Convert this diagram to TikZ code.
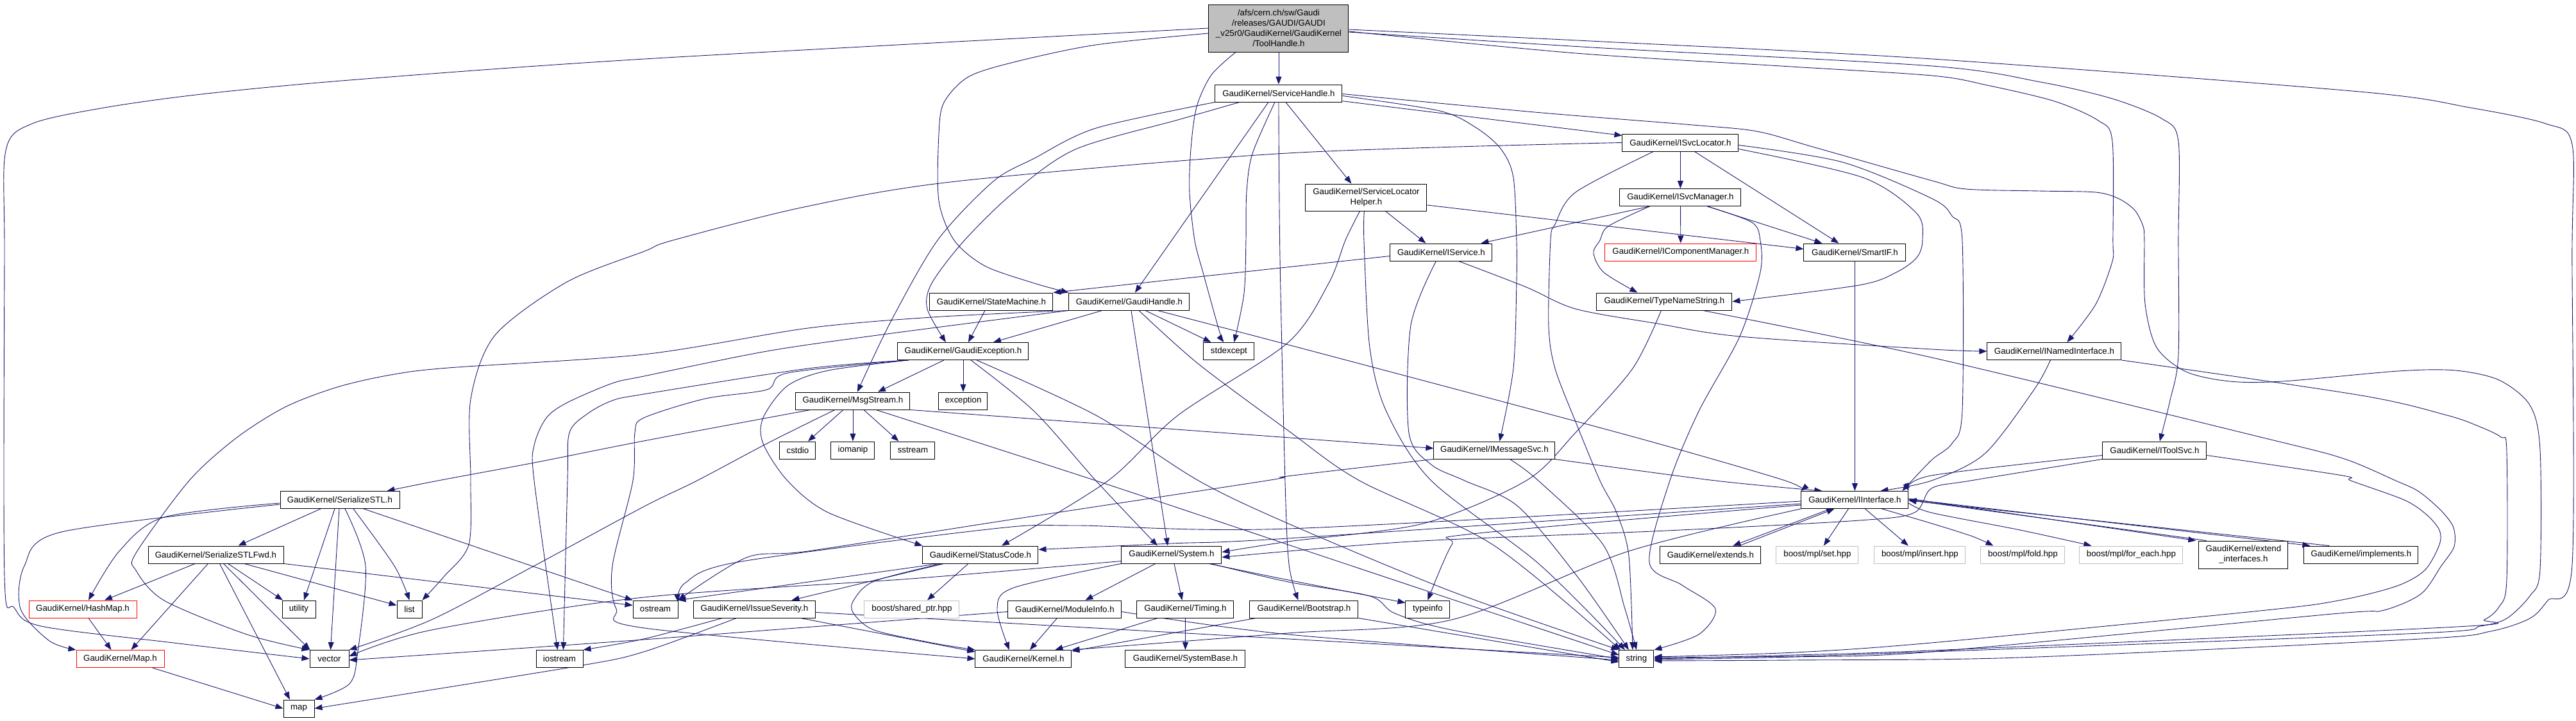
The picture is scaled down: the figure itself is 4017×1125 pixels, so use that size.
\documentclass[tikz,border=0pt]{standalone}
\usepackage{fontspec}
\setmainfont{Liberation Sans}
\usetikzlibrary{arrows.meta}
\definecolor{edgec}{HTML}{191970}
\definecolor{rootfill}{HTML}{BFBFBF}
\definecolor{graybd}{HTML}{BFBFBF}
\pgfdeclarelayer{edgelayer}
\pgfsetlayers{edgelayer,main}
\newcommand\edg[1]{\draw[edge] plot[smooth,tension=0.5] coordinates {#1};}
\begin{document}
\begin{tikzpicture}[x=1pt,y=-1pt,
  box/.style={draw=black, line width=0.95pt, fill=white, inner sep=0pt, minimum height=27pt, align=center, font=\fontsize{13.3}{16}\selectfont},
  redbox/.style={box, draw=red},
  graybox/.style={box, draw=graybd},
  rootbox/.style={box, fill=rootfill},
  edge/.style={draw=edgec, line width=0.9pt, -{Triangle[length=12pt,width=9pt]}}]
\begin{pgfonlayer}{edgelayer}
\useasboundingbox[fill=white] (0,0) rectangle (4017,1125);
\end{pgfonlayer}
% nodes
\node[rootbox, minimum width=218pt, minimum height=74pt] (TH) at (1994,44) {/afs/cern.ch/sw/Gaudi\\/releases/GAUDI/GAUDI\\\_v25r0/GaudiKernel/GaudiKernel\\/ToolHandle.h};
\node[box, minimum width=198pt] (SH) at (1994,145.5) {GaudiKernel/ServiceHandle.h};
\node[box, minimum width=181pt] (SL) at (2620.5,222.5) {GaudiKernel/ISvcLocator.h};
\node[box, minimum width=189pt, minimum height=42pt] (SLH) at (2130.5,308) {GaudiKernel/ServiceLocator\\Helper.h};
\node[box, minimum width=189pt] (SM) at (2620.5,308) {GaudiKernel/ISvcManager.h};
\node[box, minimum width=159pt] (IS) at (2247.5,393.5) {GaudiKernel/IService.h};
\node[redbox, minimum width=236pt] (ICM) at (2621,393.5) {GaudiKernel/IComponentManager.h};
\node[box, minimum width=159pt] (SIF) at (2892.5,393.5) {GaudiKernel/SmartIF.h};
\node[box, minimum width=192pt] (STM) at (1546,470.5) {GaudiKernel/StateMachine.h};
\node[box, minimum width=188pt] (GH) at (1761,470.5) {GaudiKernel/GaudiHandle.h};
\node[box, minimum width=211pt] (TNS) at (2595.5,470.5) {GaudiKernel/TypeNameString.h};
\node[box, minimum width=204pt] (GE) at (1502,548) {GaudiKernel/GaudiException.h};
\node[box, minimum width=79pt] (SE) at (1916.5,548) {stdexcept};
\node[box, minimum width=209pt] (INI) at (3203.5,548) {GaudiKernel/INamedInterface.h};
\node[box, minimum width=178pt] (MS) at (1330,625.5) {GaudiKernel/MsgStream.h};
\node[box, minimum width=76pt] (EXC) at (1502,625.5) {exception};
\node[box, minimum width=56pt] (CST) at (1244,702.5) {cstdio};
\node[box, minimum width=68pt] (IOM) at (1330,702.5) {iomanip};
\node[box, minimum width=69pt] (SST) at (1423.5,702.5) {sstream};
\node[box, minimum width=189pt] (IMS) at (2330.5,702.5) {GaudiKernel/IMessageSvc.h};
\node[box, minimum width=162pt] (ITS) at (3360,702.5) {GaudiKernel/IToolSvc.h};
\node[box, minimum width=186pt] (SSTL) at (530,780) {GaudiKernel/SerializeSTL.h};
\node[box, minimum width=167pt] (II) at (2892.5,780) {GaudiKernel/IInterface.h};
\node[box, minimum width=211pt] (SSTLF) at (336.5,865.5) {GaudiKernel/SerializeSTLFwd.h};
\node[box, minimum width=180pt] (SC) at (1529,865.5) {GaudiKernel/StatusCode.h};
\node[box, minimum width=156pt] (SYS) at (1827,865.5) {GaudiKernel/System.h};
\node[box, minimum width=157pt] (EXT) at (2667.5,865.5) {GaudiKernel/extends.h};
\node[graybox, minimum width=128pt] (MSET) at (2834,865.5) {boost/mpl/set.hpp};
\node[graybox, minimum width=142pt] (MINS) at (2994,865.5) {boost/mpl/insert.hpp};
\node[graybox, minimum width=131pt] (MFOLD) at (3154.5,865.5) {boost/mpl/fold.hpp};
\node[graybox, minimum width=161pt] (MFE) at (3323.5,865.5) {boost/mpl/for\_each.hpp};
\node[box, minimum width=139pt, minimum height=43pt] (EXTI) at (3498.5,865.5) {GaudiKernel/extend\\\_interfaces.h};
\node[box, minimum width=178pt] (IMPL) at (3682,865.5) {GaudiKernel/implements.h};
\node[redbox, minimum width=168pt] (HM) at (129,950.5) {GaudiKernel/HashMap.h};
\node[box, minimum width=52pt] (UTIL) at (466,950.5) {utility};
\node[box, minimum width=39pt] (LIST) at (638.5,950.5) {list};
\node[box, minimum width=70pt] (OST) at (1022,950.5) {ostream};
\node[box, minimum width=191pt] (ISEV) at (1176.5,950.5) {GaudiKernel/IssueSeverity.h};
\node[graybox, minimum width=148pt] (SHP) at (1422,950.5) {boost/shared\_ptr.hpp};
\node[box, minimum width=177pt] (MI) at (1660.5,950.5) {GaudiKernel/ModuleInfo.h};
\node[box, minimum width=151pt] (TIM) at (1848.5,950.5) {GaudiKernel/Timing.h};
\node[box, minimum width=169pt] (BOOT) at (2033.5,950.5) {GaudiKernel/Bootstrap.h};
\node[box, minimum width=69pt] (TI) at (2226.5,950.5) {typeinfo};
\node[redbox, minimum width=137pt] (MAPH) at (187.5,1028) {GaudiKernel/Map.h};
\node[box, minimum width=61pt] (VEC) at (513.5,1028) {vector};
\node[box, minimum width=73pt] (IOS) at (872.5,1028) {iostream};
\node[box, minimum width=150pt] (KER) at (1596,1028) {GaudiKernel/Kernel.h};
\node[box, minimum width=187pt] (SYSB) at (1848.5,1028) {GaudiKernel/SystemBase.h};
\node[box, minimum width=54pt] (STR) at (2552,1028) {string};
\node[box, minimum width=48pt] (MAP) at (466,1105.5) {map};
\begin{pgfonlayer}{edgelayer}
% ToolHandle
\draw[edge] (TH) -- (SH);
\edg{(TH.west) (1005,92) (545,125) (314,147) (163,168) (50,193) (9,235) (7,400) (7,900) (22,948) (64,977) (270,1003) (VEC.west)}
\edg{([yshift=-8pt]TH.west) (1709,70) (1581,97) (1510,120) (1472,160) (1464,210) (1464,313) (1488,375) (1536,415) (1613,442) (GH.north west)}
\edg{([xshift=-67pt]TH.south) (1889,117) (1866,167) (1857,233) (1855,300) (1863,375) (1876,425) (1901,515) ([xshift=-8pt]SE.north)}
\edg{([yshift=-5pt]TH.east) (2457,83) (2777,103) (3013,118) (3099,133) (3204,158) (3272,188) (3294,220) (3295,375) (3294,408) (3268,475) ([xshift=20pt]INI.north)}
\edg{([yshift=-6pt]TH.east) (2500,75) (3013,103) (3182,128) (3294,154) (3371,185) (3397,220) (3397,375) (3397,555) (3384,625) ([xshift=8pt]ITS.north)}
\edg{([yshift=-2pt]TH.east) (2500,65) (3013,92) (3679,143) (3852,168) (3970,193) (4011,225) (4011,400) (4011,883) (3973,937) (3945,965) (3884,985) (3775,997) (3150,1026) (2800,1030) ([yshift=-3pt]STR.east)}
% ServiceHandle
\draw[edge] (SH) -- (SL);
\draw[edge] ([xshift=11pt]SH.south) -- ([xshift=-23pt]SLH.north);
\edg{([yshift=-4pt]SH.east) (2245,173) (2303,200) (2341,233) (2360,277) (2365,375) (2365,442) (2360,575) ([xshift=8pt]IMS.north)}
\edg{([yshift=-1pt]SH.east) (2393,175) (2640,195) (2740,205) (2830,230) (3013,282) (3066,295) (3179,298) (3268,300) (3304,310) (3329,328) (3342,353) (3344,375) (3345,473) (3363,542) (3409,580) (3477,595) (3560,595) (3740,579) (3829,578) (3897,593) (3945,632) (3961,700) (3961,890) (3945,930) (3909,965) (3868,977) (3775,988) (3012,1017) (2800,1024) ([yshift=2pt]STR.east)}
\draw[edge] ([xshift=-16pt]SH.south) -- ([xshift=9pt]GH.north);
\edg{([xshift=-61pt]SH.south) (1837,187) (1677,233) (1581,300) (1504,375) (1453,442) (1446,482) ([xshift=-27pt]GE.north)}
\edg{(SH.south west) (1709,200) (1613,247) (1549,283) (1462,375) (1389,502) ([xshift=7pt]MS.north)}
\edg{([xshift=-6pt]SH.south) (1953,240) (1944,300) (1943,375) (1940,458) ([xshift=8pt]SE.north)}
\edg{(SH.south) (1996,400) (2004,750) (2010,880) ([xshift=-9pt]BOOT.north)}
% ISvcLocator
\draw[edge] (SL) -- (SM);
\edg{(SL.west) (2008,239) (1491,283) (1254,323) (1049,375) (1005,392) (884,440) (772,523) (734,623) (734,750) (731,850) (692,900) (LIST.north east)}
\draw[edge] ([xshift=22pt]SL.south) -- ([xshift=-25pt]SIF.north);
\edg{([yshift=-10pt]SL.east) (2905,277) (2989,333) (2998,375) (2989,402) (2957,425) (2899,445) (TNS.east)}
\edg{([yshift=-4pt]SL.east) (2873,253) (3013,310) (3044,337) (3060,375) (3060,642) (3044,692) (3012,718) ([xshift=-10pt]II.north east)}
\edg{([xshift=-42pt]SL.south) (2457,300) (2425,350) (2418,375) (2415,508) (2425,575) (2457,658) (2495,750) (2521,800) (2540,867) ([xshift=-6pt]STR.north)}
% ServiceLocatorHelper
\edg{([xshift=-10pt]SLH.south) (2098,375) (2072,442) (2008,535) (1837,648) (1728,750) ([xshift=33pt]SC.north)}
\edg{([xshift=-3pt]SLH.south) (2127,375) (2136,542) (2162,642) (2232,750) (2400,880) ([xshift=-18pt]STR.north)}
\draw[edge] ([xshift=30pt]SLH.south) -- ([xshift=-24pt]IS.north);
\draw[edge] ([yshift=-12pt]SLH.east) -- ([yshift=5pt]SIF.west);
% ISvcManager
\draw[edge] ([xshift=-48pt]SM.south) -- ([xshift=62pt]IS.north);
\draw[edge] (SM) -- (ICM);
\edg{([xshift=-48pt]SM.south) (2508,353) (2495,375) (2485,395) (2501,425) ([xshift=-42pt]TNS.north)}
\edg{([xshift=42pt]SM.south) (2732,347) (2745,375) (2745,425) (2713,525) (2649,642) (2604,750) (2572,877) (2623,913) (2675,950) (2649,990) (STR.north east)}
\draw[edge] ([xshift=42pt]SM.south) -- ([xshift=-51pt]SIF.north);
% IService
\draw[edge] ([yshift=-6pt]IS.west) -- (STM.north east);
\edg{([xshift=-8pt]IS.south) (2200,508) (2197,675) (2232,725) (2284,750) (2367,790) (2460,900) ([xshift=-12pt]STR.north)}
\edg{([xshift=27pt]IS.south) (2380,448) (2457,482) (2585,505) (2713,525) (3013,545) (INI.west)}
% GaudiHandle
\draw[edge] ([xshift=-42pt]GH.south) -- ([xshift=47pt]GE.north);
\draw[edge] ([xshift=25pt]GH.south) -- ([xshift=-28pt]SE.north);
\draw[edge] ([xshift=3pt]GH.south) -- ([xshift=-6pt]SYS.north);
\edg{([xshift=15pt]GH.south) (1869,568) (2009,672) (2120,750) (2328,850) ([xshift=-25pt]STR.north)}
\edg{([xshift=44pt]GH.south) (2009,538) (2348,628) (2585,692) (2784,750) (II.north west)}
\edg{(GH.south west) (1453,495) (1260,512) (1004,553) (699,574) (609,585) (526,604) (445,635) (369,683) (295,750) (212,863) (212,890) (256,937) (385,990) (VEC.north west)}
\edg{(GH.south west) (1376,522) (1196,548) (1004,587) (955,598) (885,628) (852,652) (833,695) (833,750) ([xshift=-3pt]IOS.north)}
% GaudiException
\draw[edge] ([xshift=-30pt]GE.south) -- ([xshift=39pt]MS.north);
\draw[edge] (GE) -- (EXC);
\edg{([xshift=12pt]GE.south) (1613,642) (1709,750) ([xshift=-22pt]SYS.north)}
\edg{([xshift=21pt]GE.south) (1709,648) (1869,750) (2009,817) (2264,923) (STR.north west)}
\edg{([xshift=-85pt]GE.south) (1292,578) (1228,602) (1190,652) (1190,692) (1228,750) (1292,800) (SC.north west)}
\edg{([xshift=-85pt]GE.south) (1260,575) (1004,615) (955,625) (917,645) (888,675) (885,750) ([xshift=6pt]IOS.north)}
\edg{([xshift=-88pt]GE.south) (1228,582) (1196,608) (1100,622) (1004,652) (990,675) (987,750) (955,883) (961,950) (1005,980) (KER.west)}
\draw[edge] ([xshift=-10pt]STM.south) -- ([xshift=8pt]GE.north);
% MsgStream
\draw[edge] ([xshift=-15pt]MS.south) -- ([xshift=16pt]CST.north);
\draw[edge] (MS) -- (IOM);
\draw[edge] ([xshift=17pt]MS.south) -- ([xshift=-22pt]SST.north);
\edg{([xshift=-66pt]MS.south) (1004,688) (833,722) (683,750) ([xshift=-20pt]SSTL.north east)}
\edg{([xshift=-28pt]MS.south) (1200,690) (1087,750) (1005,790) (833,883) (673,967) (VEC.north east)}
\edg{([xshift=36pt]MS.south) (1709,750) (2009,850) ([yshift=6pt]STR.west)}
\draw[edge] (MS.south east) -- ([yshift=3pt]IMS.west);
% IMessageSvc
\edg{(IMS.south west) (2008,743) (1975,750) (1562,813) (1260,860) (1164,870) (OST.north east)}
\edg{([xshift=24pt]IMS.south) (2399,750) (2500,850) (2534,950) (STR.north)}
\edg{([xshift=94pt]IMS.south) (2675,750) ([xshift=-51pt]II.north)}
% IToolSvc
\edg{([yshift=-8pt]ITS.west) (3012,742) (II.north east)}
\edg{(ITS.south west) (3073,750) (3012,762) (2985,800) (2900,812) (2600,828) (2200,845) ([yshift=-4pt]SYS.east)}
\edg{([yshift=-8pt]ITS.east) (3653,742) (3666,750) (3749,780) (3784,803) (3804,827) (3804,850) (3781,890) (3736,915) (3647,937) (3525,953) (3012,1003) (2800,1018) ([yshift=3pt]STR.east)}
% INamedInterface
\edg{([xshift=-6pt]INI.south) (3172,608) (3095,708) (3012,750) ([xshift=40pt]II.north)}
\edg{(INI.south east) (3682,617) (3816,648) (3865,665) (3900,682) (3909,702) (3909,907) (3897,947) (3874,967) (3832,978) (3012,1015) (2800,1022) (STR.east)}
% TypeNameString
\edg{([xshift=-5pt]TNS.south) (2546,575) (2457,675) (2380,750) (2219,817) (2009,845) ([yshift=4pt]SYS.east)}
\edg{([xshift=60pt]TNS.south) (3013,558) (3525,682) (3653,715) (3736,750) (3772,767) (3807,797) (3826,823) (3827,853) (3807,883) (3775,927) (3714,953) (3637,958) (3012,1017) (2800,1025) ([yshift=-1pt]STR.east)}
% SmartIF
\draw[edge] (SIF) -- (II);
% IInterface
\edg{(II.south west) (2540,860) (2264,967) (2008,988) (KER.north east)}
\edg{([yshift=-2pt]II.west) (2009,825) (1677,820) (1549,825) (1151,877) (1068,910) ([yshift=-3pt]OST.north east)}
\edg{([yshift=-6pt]II.west) (2009,840) (1827,848) ([yshift=8pt]SC.east)}
\edg{([yshift=-8pt]II.west) (2296,833) (2264,850) (TI.north)}
\draw[edge] ([xshift=-38pt]II.south) -- ([xshift=35pt]EXT.north);
\draw[edge] ([xshift=45pt]EXT.north) -- ([xshift=-32pt]II.south);
\draw[edge] ([xshift=-10pt]II.south) -- ([xshift=10pt]MSET.north);
\draw[edge] ([xshift=16pt]II.south) -- ([xshift=-18pt]MINS.north);
\edg{([xshift=42pt]II.south) (3013,817) (3076,837) ([xshift=-46pt]MFOLD.north)}
\edg{([yshift=-5pt]II.east) (3012,800) (3150,827) ([xshift=-62pt]MFE.north)}
\draw[edge] ([yshift=2pt]II.east) -- ([xshift=-4pt]EXTI.north west);
\draw[edge] ([xshift=12pt]EXTI.north west) -- (II.east);
\draw[edge] ([yshift=1pt]II.east) -- ([xshift=10pt]IMPL.north west);
\draw[edge] ([xshift=40pt]IMPL.north west) -- ([yshift=-1pt]II.east);
% SerializeSTL
\draw[edge] ([xshift=-30pt]SSTL.south) -- ([xshift=35pt]SSTLF.north);
\draw[edge] ([xshift=-8pt]SSTL.south) -- ([xshift=8pt]UTIL.north);
\draw[edge] ([xshift=-1pt]SSTL.south) -- ([xshift=2pt]VEC.north);
\edg{([xshift=8pt]SSTL.south) (570,883) (558,1017) (545,1067) (MAP.north east)}
\edg{([xshift=21pt]SSTL.south) (615,883) (LIST.north)}
\draw[edge] ([xshift=37pt]SSTL.south) -- (OST.north west);
\edg{([yshift=-5pt]SSTL.west) (256,807) (186,860) ([xshift=9pt]HM.north)}
\edg{([yshift=-7pt]SSTL.west) (96,830) (38,883) (32,950) (77,1000) (MAPH.north west)}
% SerializeSTLFwd
\draw[edge] ([xshift=-32pt]SSTLF.south) -- ([xshift=34pt]HM.north);
\draw[edge] ([xshift=-12pt]SSTLF.south) -- ([xshift=17pt]MAPH.north);
\draw[edge] ([xshift=6pt]SSTLF.south) -- ([xshift=-14pt]MAP.north);
\draw[edge] ([xshift=12pt]SSTLF.south) -- ([xshift=-30pt]VEC.north);
\draw[edge] ([xshift=19pt]SSTLF.south) -- ([xshift=-25pt]UTIL.north);
\draw[edge] ([xshift=44pt]SSTLF.south) -- ([yshift=6pt]LIST.west);
\draw[edge] (SSTLF.south east) -- ([yshift=6pt]OST.west);
\draw[edge] ([xshift=9pt]HM.south) -- ([xshift=-14pt]MAPH.north);
\draw[edge] ([xshift=50pt]MAPH.south) -- (MAP.west);
% StatusCode
\draw[edge] ([xshift=-19pt]SC.south) -- ([xshift=24pt]SHP.north);
\draw[edge] ([xshift=-57pt]SC.south) -- ([xshift=58pt]ISEV.north);
\draw[edge] ([xshift=-64pt]SC.south) -- (OST.north east);
\edg{([xshift=-60pt]SC.south) (1363,907) (1331,937) (1331,957) (1363,983) (1453,1003) (KER.north west)}
% IssueSeverity
\draw[edge] ([xshift=72pt]ISEV.south) -- ([yshift=-3pt]KER.north west);
\draw[edge] ([yshift=-5pt]ISEV.east) -- ([yshift=2pt]STR.west);
\edg{([xshift=-50pt]ISEV.south) (1004,997) (IOS.north east)}
\edg{([xshift=-28pt]ISEV.south) (1004,1017) (897,1040) (MAP.east)}
% System
\edg{(SYS.south west) (1581,917) (1555,950) ([xshift=-22pt]KER.north)}
\draw[edge] ([xshift=-25pt]SYS.south) -- ([xshift=32pt]MI.north);
\draw[edge] ([xshift=4pt]SYS.south) -- ([xshift=-5pt]TIM.north);
\edg{([xshift=58pt]SYS.south) (2009,905) ([yshift=-4pt]TI.north west)}
\edg{([xshift=61pt]SYS.south) (2009,908) (2136,930) (2175,957) (2264,983) (STR.west)}
\edg{([yshift=-10pt]SYS.west) (1421,903) (1004,932) (673,983) ([yshift=4pt]VEC.east)}
% ModuleInfo, Timing, Bootstrap
\draw[edge] ([xshift=-12pt]MI.south) -- ([xshift=10pt]KER.north);
\edg{([yshift=-4pt]MI.west) (1004,998) ([yshift=-2pt]VEC.east)}
\edg{([yshift=-4pt]MI.east) (2009,990) ([yshift=-2pt]STR.west)}
\draw[edge] ([xshift=-43pt]TIM.south) -- ([xshift=-26pt]KER.north east);
\draw[edge] (TIM) -- (SYSB);
\draw[edge] ([xshift=10pt]BOOT.south west) -- ([yshift=-2pt]KER.north east);
\draw[edge] (BOOT.south east) -- ([yshift=-5pt]STR.west);
\end{pgfonlayer}
\end{tikzpicture}
\end{document}
